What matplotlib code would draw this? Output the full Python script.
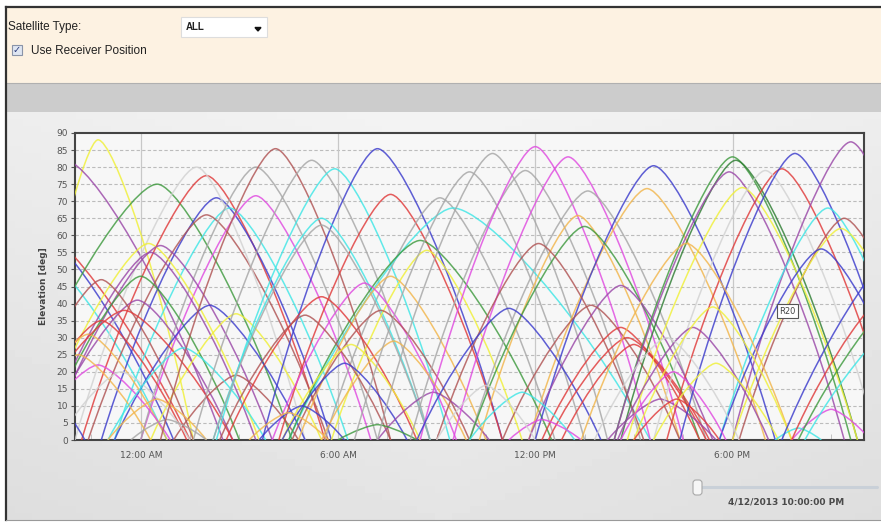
import numpy as np
import matplotlib
matplotlib.use("Agg")
from matplotlib import pyplot as plt
from matplotlib.path import Path
from matplotlib.patches import PathPatch, Rectangle, FancyBboxPatch, Polygon

# satellite passes (hours after midnight 4/13/2013): rise, culmination, max elevation, set
rise = [-3.6, -6.0, -7.0, -6.5, -6.5, -4.2, -1.8, -1.2, -0.8, -1.6,
        0.0, -2.0, 0.0, -3.2, -2.8, -3.0, -3.0, -3.0, -0.8, 0.3,
        -4.0, -3.8, -4.0, -3.5, 1.0, -3.8, -4.0, -5.0, -2.5, -1.0,
        -1.0, -0.3, 0.6, 1.6, 2.3, 3.7, 4.2, 5.6, 4.5, 2.2,
        2.2, 4.5, 5.8, 4.8, 4.0, 2.6, 4.6, 2.4, 5.5, 4.3,
        4.3, 7.2, 3.6, 6.0, 3.3, 7.2, 6.5, 8.2, 8.5, 9.5,
        10.0, 11.8, 12.0, 10.3, 10.0, 9.0, 8.4, 11.8, 11.0, 12.2,
        12.8, 12.4, 10.0, 11.2, 9.0, 14.2, 14.4, 14.6, 14.4, 14.8,
        16.0, 15.6, 16.4, 18.0, 17.6, 18.2, 18.0, 17.6, 13.4, 14.5,
        15.0, 15.6, 19.8, 19.3, 19.5, 19.8, 20.0, 20.2, 13.8, 14.6,
        15.0]
peak_t = [-1.3, -2.3, -3.5, -3.2, -3.5, 0.5, 2.0, 2.3, 2.7, 2.0,
          3.5, 1.7, 3.5, 0.24, 0.6, 0.3, 0.0, -0.1, 2.1, 2.9,
          -1.2, -1.2, -1.6, -1.3, 2.9, -0.5, -1.9, -3.5, -0.6, 1.3,
          0.5, 0.8, 4.1, 5.2, 5.9, 7.2, 7.6, 9.1, 9.5, 5.5,
          5.5, 8.5, 8.7, 7.6, 6.8, 5.5, 7.3, 5.0, 7.7, 6.4,
          6.2, 8.9, 4.9, 7.2, 4.5, 10.7, 10.0, 11.7, 12.0, 13.0,
          13.6, 15.4, 15.6, 13.3, 13.5, 12.1, 11.2, 14.6, 13.7, 14.6,
          15.0, 14.8, 11.6, 12.2, 10.5, 15.8, 18.0, 18.1, 17.9, 18.3,
          19.5, 19.0, 19.9, 21.6, 20.9, 21.4, 21.3, 20.7, 16.6, 16.8,
          17.4, 17.5, 21.0, 20.0, 23.5, 23.0, 24.0, 23.8, 16.0, 16.2,
          16.3]
peak_el = [88, 82, 65, 62, 58, 75, 77.5, 71, 68, 66,
           71.6, 80, 80, 57.6, 57, 55, 48, 41, 39.5, 37,
           47, 35, 31, 22, 19, 38, 25, 20, 20, 27,
           12, 6, 85.4, 82, 79.5, 85.4, 72, 71, 68, 65,
           63, 58.5, 55.6, 48, 46, 42, 38, 36.6, 29, 28,
           22.5, 14, 10, 4.5, 8, 84, 78.6, 79, 86, 83,
           73, 73.7, 80.4, 65.8, 62.6, 57.6, 38.6, 45.3, 39.5, 33,
           28, 30, 14, 6, 16, 12, 83, 82, 78.6, 74,
           79.5, 79, 84, 87.4, 68, 65, 62, 56, 57.6, 33,
           39, 22.5, 9, 3.5, 60, 45, 50, 40, 30, 20,
           12]
set_t = [1.6, 2.5, 1.5, 1.0, 0.8, 4.6, 5.6, 5.8, 6.3, 5.7,
         7.0, 5.0, 7.2, 3.6, 4.0, 3.5, 3.0, 2.8, 5.0, 5.5,
         1.6, 1.4, 0.8, 0.9, 4.8, 2.8, 0.3, -1.7, 1.5, 3.8,
         2.0, 2.0, 7.6, 8.8, 9.4, 11.0, 11.0, 12.6, 15.5, 8.8,
         8.8, 12.5, 11.6, 10.5, 9.6, 8.4, 10.0, 7.6, 9.9, 8.5,
         8.1, 10.6, 6.2, 8.4, 5.7, 14.2, 13.5, 15.2, 15.5, 16.5,
         17.2, 19.0, 19.3, 16.4, 17.0, 15.3, 14.0, 17.4, 16.4, 17.0,
         17.2, 17.3, 13.2, 13.4, 12.0, 17.5, 21.6, 21.8, 21.4, 21.8,
         23.0, 22.4, 23.4, 25.0, 24.0, 24.6, 24.6, 23.8, 19.8, 19.1,
         19.8, 19.4, 22.2, 20.7, 27.0, 26.0, 27.5, 26.5, 18.2, 17.8,
         17.6]
sat_kind = ["Y", "P", "R", "B", "C", "G", "R", "B", "C", "BR",
            "M", "LG", "GR", "Y", "P", "P", "G", "P", "B", "Y",
            "BR", "R", "O", "M", "BR", "R", "O", "B", "LG", "C",
            "O", "GR", "BR", "GR", "C", "B", "R", "GR", "C", "C",
            "GR", "G", "Y", "O", "M", "R", "BR", "BR", "O", "Y",
            "B", "P", "B", "G", "O", "GR", "GR", "GR", "M", "M",
            "GR", "O", "B", "O", "G", "BR", "B", "P", "BR", "R",
            "R", "R", "C", "M", "LG", "P", "G", "DG", "P", "Y",
            "R", "LG", "B", "P", "C", "BR", "Y", "B", "O", "P",
            "Y", "Y", "M", "C", "B", "R", "G", "C", "LG", "M",
            "R"]

yticks = list(range(0, 95, 5))
xticks = [0, 6, 12, 18]
xticklabels = ["12:00 AM", "6:00 AM", "12:00 PM", "6:00 PM"]

palette = {"Y": "#f0f038", "G": "#3f9a3f", "DG": "#2e7d32", "R": "#e03a3a",
           "B": "#3c3ccc", "C": "#3fe6e6", "BR": "#b05454", "M": "#e04ae0",
           "GR": "#a6a6a6", "LG": "#d2d2d2", "P": "#9a48a8", "O": "#f2b64c"}

W, H = 881, 523
fig = plt.figure(figsize=(W / 100, H / 100), dpi=100)

# page background in pixel coordinates
bg = fig.add_axes([0, 0, 1, 1])
bg.set_xlim(0, W)
bg.set_ylim(H, 0)
bg.axis("off")
bg.add_patch(Rectangle((0, 0), W, H, color="white"))
yy, xx = np.mgrid[0:1:60j, 0:1:100j]
grad = 0.955 - 0.06 * yy - 0.05 * np.abs(xx - 0.5)
bg.imshow(grad, extent=(6, W, 520, 112), cmap="gray", vmin=0, vmax=1,
          aspect="auto", zorder=1)
bg.add_patch(Rectangle((6, 8), W - 6, 75, facecolor="#fdf2e2", edgecolor="none", zorder=2))
bg.add_patch(Rectangle((6, 83), W - 6, 29, facecolor="#cccccc", edgecolor="none", zorder=2))
bg.plot([6, W], [83, 83], color="#b0b0b0", lw=0.8, zorder=3)
bg.plot([6, W], [7, 7], color="#333333", lw=1.6, zorder=3)
bg.plot([6, 6], [7, 520], color="#333333", lw=1.6, zorder=3)
bg.plot([6, W], [520, 520], color="#9a9a9a", lw=0.8, zorder=3)

bg.text(8, 27, "Satellite Type:", fontsize=8.5, family="Liberation Sans",
        color="#222222", va="center", zorder=4)
bg.add_patch(Rectangle((181, 17), 86, 20, facecolor="white", edgecolor="#dddddd",
                       lw=0.8, zorder=4))
bg.text(186, 27, "ALL", fontsize=7, family="Liberation Sans", weight="bold",
        color="#222222", va="center", zorder=5)
bg.add_patch(Polygon([[255, 27.5], [261, 27.5], [258, 31]], color="#111111", zorder=5))
bg.add_patch(Rectangle((12, 45), 10, 10, facecolor="#dfe6f2", edgecolor="#8a94a8",
                       lw=0.8, zorder=4))
bg.text(17, 50.5, "\u2713", fontsize=7, color="#2a3a7a", ha="center", va="center", zorder=5)
bg.text(31, 51, "Use Receiver Position", fontsize=8.5, family="Liberation Sans",
        color="#222222", va="center", zorder=4)

# slider
bg.plot([697, 877], [487, 487], color="#c9d0d8", lw=2.2, solid_capstyle="round", zorder=4)
bg.add_patch(FancyBboxPatch((693, 480), 9, 15, boxstyle="round,pad=0,rounding_size=3",
                            facecolor="#f6f6f6", edgecolor="#a8a8a8", lw=0.8, zorder=5))
bg.text(786, 502, "4/12/2013 10:00:00 PM", fontsize=6.5, weight="bold",
        color="#4a4a4a", ha="center", va="center", zorder=5)

# elevation chart
ax = fig.add_axes([75 / W, (H - 440) / H, (864 - 75) / W, (440 - 133) / H])
ax.set_facecolor("#f7f7f7")
ax.set_xlim(-2, 22)
ax.set_ylim(0, 90)
ax.set_yticks(yticks)
ax.set_xticks(xticks)
ax.set_xticklabels(xticklabels)
ax.set_xticks(np.arange(-1.5, 22, 1.5), minor=True)
ax.tick_params(axis="y", labelsize=6.5, labelcolor="#555555", length=3, color="#555555", pad=2)
ax.tick_params(axis="x", labelsize=6.5, labelcolor="#555555", length=0, pad=8)
ax.tick_params(axis="x", which="minor", direction="in", length=4, color="#bbbbbb")
for v in yticks[1:-1]:
    ax.axhline(v, color="#bcbcbc", lw=0.8, ls=(0, (3, 2)), zorder=1)
for v in xticks:
    ax.axvline(v, color="#c8c8c8", lw=0.9, zorder=1)
for s in ax.spines.values():
    s.set_color("#444444")
    s.set_linewidth(1.5)
ax.set_ylabel("Elevation [deg]", fontsize=6.5, color="#444444", weight="bold", labelpad=6)

for r, p, e, st, k in zip(rise, peak_t, peak_el, set_t, sat_kind):
    verts = [(r, 0), (r + 0.35 * (p - r), 0.55 * e), (p - 0.16 * (p - r), e), (p, e),
             (p + 0.16 * (st - p), e), (st - 0.35 * (st - p), 0.55 * e), (st, 0)]
    codes = [Path.MOVETO] + [Path.CURVE4] * 6
    ax.add_patch(PathPatch(Path(verts, codes), facecolor="none", edgecolor=palette[k],
                           lw=1.1, alpha=0.82, zorder=3))

ax.text(19.67, 37.7, "R20", fontsize=6, color="#444444", ha="center", va="center", zorder=6,
        bbox=dict(boxstyle="square,pad=0.3", facecolor="white", edgecolor="#555555", lw=0.8))

fig.savefig("out.png", dpi=100)
